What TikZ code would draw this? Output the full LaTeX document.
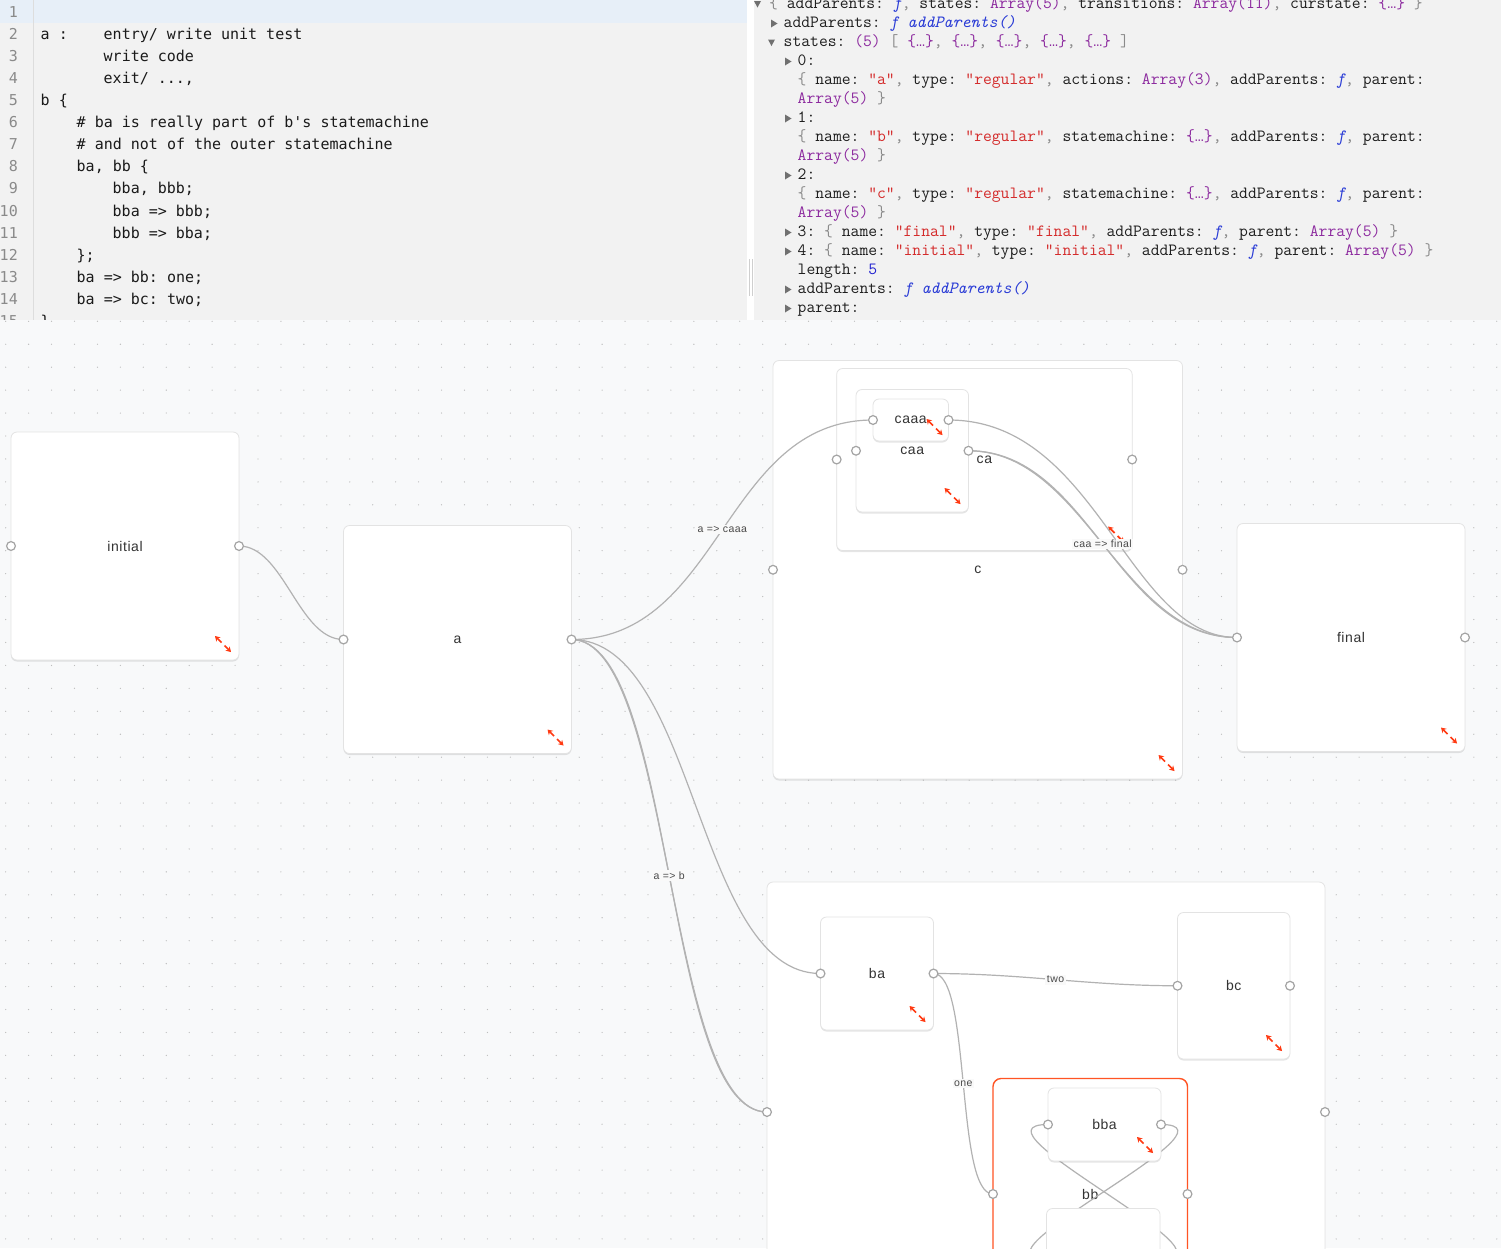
\documentclass[tikz,border=0pt]{standalone}
\usepackage{fontspec}
\usetikzlibrary{arrows.meta,shadows,calc}
\newfontfamily\codefont{DejaVu Sans Mono}
\newfontfamily\ellfont{Liberation Mono}
\newfontfamily\uifont[LetterSpace=4.0]{Liberation Sans}
\frenchspacing
\definecolor{canvasbg}{HTML}{F8F9FA}
\definecolor{panelbg}{HTML}{F2F2F2}
\definecolor{hlline}{HTML}{E7EFF8}
\definecolor{gutterline}{HTML}{DDDDDD}
\definecolor{gripcol}{HTML}{CFCFCF}
\definecolor{dotcol}{HTML}{BDBDBD}
\definecolor{boxborder}{HTML}{E3E3E3}
\definecolor{portcol}{HTML}{A4A4A4}
\definecolor{conncol}{HTML}{B2B2B2}
\definecolor{resizecol}{HTML}{FF3A12}
\definecolor{bbred}{HTML}{FF5424}
\definecolor{labelcol}{HTML}{333333}
\definecolor{elabelcol}{HTML}{4A4A4A}
\definecolor{elabelbg}{HTML}{F9F9F9}
\definecolor{strred}{HTML}{D42B2B}
\definecolor{purp}{HTML}{8D2B9F}
\definecolor{fblue}{HTML}{2A3CD6}
\definecolor{numblue}{HTML}{2222D0}
\definecolor{punct}{HTML}{8A8A8A}
\definecolor{keycol}{HTML}{1E1E1E}
\definecolor{linenum}{HTML}{8A8A8A}
\definecolor{codecol}{HTML}{1A1A1A}
\definecolor{tricol}{HTML}{707070}
\newcommand\cPu[1]{\textcolor{punct}{#1}}
\newcommand\cSt[1]{\textcolor{strred}{#1}}
\newcommand\cAr[1]{\textcolor{purp}{#1}}
\newcommand\cFn[1]{\textcolor{fblue}{\itshape #1}}
\newcommand\cNu[1]{\textcolor{numblue}{#1}}
\newcommand\cEl{\textcolor{purp}{\{{\ellfont\fontsize{15pt}{17pt}\selectfont …}\}}}
\newcommand\statefont{\uifont\fontsize{14pt}{16pt}\selectfont}
\newcommand\elabelfont{\uifont\fontsize{10.5pt}{12pt}\selectfont}
\newcommand\codesize{\codefont\fontsize{15pt}{18pt}\selectfont}
\newcommand\inspsize{\ttfamily\fontsize{17.14pt}{19pt}\selectfont}
\pgfdeclarelayer{innerbox}
\pgfdeclarelayer{portlayer}
\pgfsetlayers{main,innerbox,portlayer}
\tikzset{
  statebox/.style={draw=boxborder, fill=white, rounded corners=6pt, line width=0.8pt,
    inner sep=0pt, outer sep=0pt, font=\statefont, text=labelcol,
    drop shadow={shadow xshift=0pt, shadow yshift=-1.5pt, fill=black, opacity=0.10}},
  redbox/.style={statebox, draw=bbred, line width=1.4pt, rounded corners=8pt},
  port/.style={circle, draw=portcol, fill=white, line width=1.2pt, minimum size=8.8pt,
    inner sep=0pt, outer sep=0pt},
  conn/.style={draw=conncol, line width=1.2pt},
  elabel/.style={fill=elabelbg, inner sep=1.5pt, font=\elabelfont, text=elabelcol},
  codeline/.style={anchor=base west, inner sep=0pt, font=\codesize, text=codecol},
  lnum/.style={anchor=base east, inner sep=0pt, font=\codesize, text=linenum},
  insp/.style={anchor=base west, inner sep=0pt, font=\inspsize, text=keycol},
  resizeicon/.pic={
    \draw[resizecol, line width=1.7pt, -{Stealth[length=5pt,width=6pt]}] (-1.5,-1.5) -- (-8,-8);
    \draw[resizecol, line width=1.7pt, -{Stealth[length=5pt,width=6pt]}] (1.5,1.5) -- (8,8);
  }
}
\begin{document}
\begin{tikzpicture}[x=1pt,y=-1pt]
\useasboundingbox (0,0) rectangle (1501,1248);
% ---------- editor panel ----------
\fill[panelbg] (0,0) rectangle (747,320);
\fill[hlline] (0,0) rectangle (747,23);
\draw[gutterline, line width=0.8pt] (33.3,0) -- (33.3,320);
\foreach \k in {1,...,15} \node[lnum] (ln\k) at (18, {17.3+22.08*(\k-1)}) {\k};
\node[codeline] (code2a) at (40.5,39.38) {a :};
\node[codeline] (code2b) at (103.5,39.38) {entry/ write unit test};
\node[codeline] (code3) at (103.5,61.46) {write code};
\node[codeline] (code4) at (103.5,83.54) {exit/ ...,};
\node[codeline] (code5) at (40.5,105.62) {b \{};
\node[codeline] (code6) at (76.5,127.7) {\# ba is really part of b's statemachine};
\node[codeline] (code7) at (76.5,149.78) {\# and not of the outer statemachine};
\node[codeline] (code8) at (76.5,171.86) {ba, bb \{};
\node[codeline] (code9) at (112.5,193.94) {bba, bbb;};
\node[codeline] (code10) at (112.5,216.02) {bba => bbb;};
\node[codeline] (code11) at (112.5,238.1) {bbb => bba;};
\node[codeline] (code12) at (76.5,260.18) {\};};
\node[codeline] (code13) at (76.5,282.26) {ba => bb: one;};
\node[codeline] (code14) at (76.5,304.34) {ba => bc: two;};
\node[codeline] (code15) at (40.5,326.42) {\}};
% ---------- splitter ----------
\fill[white] (747,0) rectangle (754,320);
\draw[gripcol, line width=0.8pt] (749,259) -- (749,296) (752.3,259) -- (752.3,296);
% ---------- inspector panel ----------
\fill[panelbg] (754,0) rectangle (1501,320);
\fill[tricol] (754,1) -- (761,1) -- (757.5,7.5) -- cycle;
\fill[tricol] (771,19.5) -- (777.5,23.5) -- (771,27.5) -- cycle;
\fill[tricol] (768,39.5) -- (775,39.5) -- (771.5,46) -- cycle;
\foreach \k in {3,6,9,12,13,15,16}
  \fill[tricol] (785,{4.5+19*\k-4}) -- (791.5,{4.5+19*\k}) -- (785,{4.5+19*\k+4}) -- cycle;
\node[insp] (insp0) at (769,8.7) {\cPu{\{} addParents: \cFn{f}\cPu{,} states: \cAr{Array(5)}\cPu{,} transitions: \cAr{Array(11)}\cPu{,} curstate: \cEl\ \cPu{\}}};
\node[insp] (insp1) at (783.5,27.2) {addParents: \cFn{f addParents()}};
\node[insp] (insp2) at (783.5,46.2) {states: \cAr{(5)} \cPu{[} \cEl\cPu{,} \cEl\cPu{,} \cEl\cPu{,} \cEl\cPu{,} \cEl\ \cPu{]}};
\node[insp] (insp3) at (797.5,65.2) {0:};
\node[insp] (insp4) at (797.5,84.2) {\cPu{\{} name: \cSt{"a"}\cPu{,} type: \cSt{"regular"}\cPu{,} actions: \cAr{Array(3)}\cPu{,} addParents: \cFn{f}\cPu{,} parent:};
\node[insp] (insp5) at (797.5,103.2) {\cAr{Array(5)} \cPu{\}}};
\node[insp] (insp6) at (797.5,122.2) {1:};
\node[insp] (insp7) at (797.5,141.2) {\cPu{\{} name: \cSt{"b"}\cPu{,} type: \cSt{"regular"}\cPu{,} statemachine: \cEl\cPu{,} addParents: \cFn{f}\cPu{,} parent:};
\node[insp] (insp8) at (797.5,160.2) {\cAr{Array(5)} \cPu{\}}};
\node[insp] (insp9) at (797.5,179.2) {2:};
\node[insp] (insp10) at (797.5,198.2) {\cPu{\{} name: \cSt{"c"}\cPu{,} type: \cSt{"regular"}\cPu{,} statemachine: \cEl\cPu{,} addParents: \cFn{f}\cPu{,} parent:};
\node[insp] (insp11) at (797.5,217.2) {\cAr{Array(5)} \cPu{\}}};
\node[insp] (insp12) at (797.5,236.2) {3: \cPu{\{} name: \cSt{"final"}\cPu{,} type: \cSt{"final"}\cPu{,} addParents: \cFn{f}\cPu{,} parent: \cAr{Array(5)} \cPu{\}}};
\node[insp] (insp13) at (797.5,255.2) {4: \cPu{\{} name: \cSt{"initial"}\cPu{,} type: \cSt{"initial"}\cPu{,} addParents: \cFn{f}\cPu{,} parent: \cAr{Array(5)} \cPu{\}}};
\node[insp] (insp14) at (797.5,274.2) {length: \cNu{5}};
\node[insp] (insp15) at (797.5,293.2) {addParents: \cFn{f addParents()}};
\node[insp] (insp16) at (797.5,312.2) {parent:};
% ---------- canvas ----------
\fill[canvasbg] (0,320) rectangle (1501,1248);
\foreach \i in {0,...,65}
  \foreach \j in {0,...,40}
    \fill[dotcol] ({5.67+22.94*\i},{321.3+22.94*\j}) circle (0.65pt);
% top-level states
\node[statebox, minimum width=228pt, minimum height=228pt] (initial) at (125,546) {initial};
\node[statebox, minimum width=228pt, minimum height=228pt] (a) at (457.5,639.5) {a};
\node[statebox, minimum width=409.5pt, minimum height=418.5pt] (c) at (977.75,569.75) {c};
\node[statebox, minimum width=228pt, minimum height=228pt] (final) at (1351,637.5) {final};
\node[statebox, minimum width=558pt, minimum height=460pt] (b) at (1046,1112) {b};
\foreach \n in {initial,a,c,final,b} \pic at ($(\n.south east)+(-16,-16)$) {resizeicon};
% inside c
\node[statebox, minimum width=295.5pt, minimum height=182pt] (ca) at (984.4,459.5) {ca};
\pic at ($(ca.south east)+(-16,-16)$) {resizeicon};
\node[statebox, minimum width=112.5pt, minimum height=122.5pt] (caa) at (912.25,450.75) {caa};
\pic at ($(caa.south east)+(-16,-16)$) {resizeicon};
\node[statebox, minimum width=75.5pt, minimum height=42pt] (caaa) at (910.75,420) {caaa};
\pic at ($(caaa.south east)+(-14,-14)$) {resizeicon};
% inside b
\node[statebox, minimum width=113pt, minimum height=113pt] (ba) at (877,973.5) {ba};
\pic at ($(ba.south east)+(-16,-16)$) {resizeicon};
\node[statebox, minimum width=112.5pt, minimum height=146.5pt] (bc) at (1233.75,985.75) {bc};
\pic at ($(bc.south east)+(-16,-16)$) {resizeicon};
\node[redbox, minimum width=194.5pt, minimum height=231pt] (bb) at (1090.25,1194) {bb};
% inside bb (boxes above their connectors)
\begin{pgfonlayer}{innerbox}
\node[statebox, minimum width=113pt, minimum height=73pt] (bba) at (1104.5,1124.5) {bba};
\pic at ($(bba.south east)+(-16,-16)$) {resizeicon};
\node[statebox, minimum width=113.5pt, minimum height=101pt] (bbb) at (1103.25,1259) {bbb};
\end{pgfonlayer}
\draw[conn] (bba.east) .. controls +(88,0) and +(-88,0) .. (bbb.west);
\draw[conn] (bbb.east) .. controls +(88,0) and +(-88,0) .. (bba.west);
% connectors inside b
\draw[conn] (ba.east) .. controls +(90,0) and +(-90,0) .. (bc.west) node[elabel, pos=0.5] (ltwo) {two};
\draw[conn] (ba.east) .. controls +(38,0) and +(-38,0) .. (bb.west) node[elabel, pos=0.5] (lone) {one};
% top-level connectors
\draw[conn] (initial.east) .. controls +(45,0) and +(-45,0) .. (a.west);
\draw[conn] (a.east) .. controls +(125,0) and +(-125,0) .. (ba.west);
\draw[conn] (a.east) .. controls +(101,0) and +(-101,0) .. (b.west);
\draw[conn] (a.east) .. controls +(104,0) and +(-104,0) .. (b.west) node[elabel, pos=0.5] (lab) {a => b};
\draw[conn] (a.east) .. controls +(150,0) and +(-150,0) .. (caaa.west) node[elabel, pos=0.5] (lacaaa) {a => caaa};
\draw[conn] (caaa.east) .. controls +(150,0) and +(-110,0) .. (final.west);
\draw[conn] (caa.east) .. controls +(116,0) and +(-116,0) .. (final.west);
\draw[conn] (caa.east) .. controls +(121,0) and +(-121,0) .. (final.west) node[elabel, pos=0.5] (lcaafinal) {caa => final};
% ports
\begin{pgfonlayer}{portlayer}
\foreach \n in {initial,a,c,final,b,ca,caa,caaa,ba,bc,bb,bba,bbb} {
  \node[port] (\n L) at (\n.west) {};
  \node[port] (\n R) at (\n.east) {};
}
\end{pgfonlayer}
\end{tikzpicture}
\end{document}
